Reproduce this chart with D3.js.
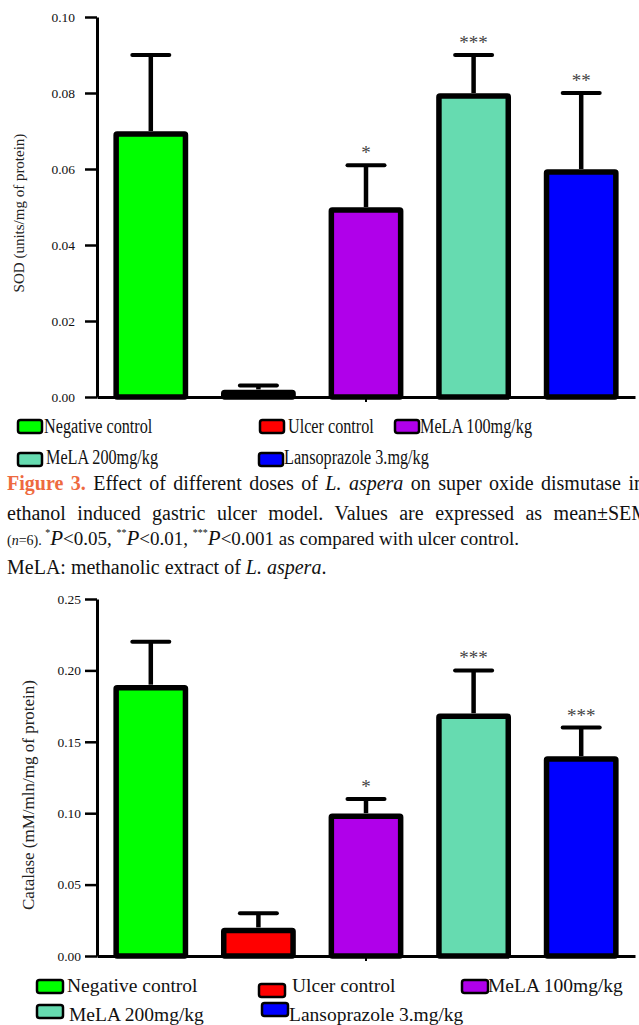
<!DOCTYPE html>
<html><head><meta charset="utf-8">
<script src="https://cdn.jsdelivr.net/npm/d3@7.9.0/dist/d3.min.js"></script>
<style>
html,body{margin:0;padding:0;background:#fff;}
svg{display:block;}
svg text{font-family:"Liberation Serif","DejaVu Serif",serif;}
</style></head><body>
<svg id="fig" width="639" height="1025"></svg>
<script>
// groups and colours shared by both panels
const groups = ["Negative control", "Ulcer control", "MeLA 100mg/kg", "MeLA 200mg/kg", "Lansoprazole 3.mg/kg"];
const colors = ["#00ff00", "#ff0000", "#b000ea", "#66dbb0", "#0000ff"];

// panel A: SOD
const sodMean = [0.07, 0.002, 0.05, 0.08, 0.06];
const sodSem = [0.02, 0.001, 0.011, 0.01, 0.02];
const sodSig = ["", "", "*", "***", "**"];
const sodTicks = [0, 0.02, 0.04, 0.06, 0.08, 0.10];

// panel B: catalase
const catMean = [0.19, 0.02, 0.10, 0.17, 0.14];
const catSem = [0.03, 0.01, 0.01, 0.03, 0.02];
const catSig = ["", "", "*", "***", "***"];
const catTicks = [0, 0.05, 0.10, 0.15, 0.20, 0.25];

const svg = d3.select('#fig');

function drawChart(o) {
  let y = d3.scaleLinear().domain([0, o.max]).range([o.bottom, o.top]);
  let x = d3.scaleBand().domain(groups).range([97, 635]).paddingInner(0.3).paddingOuter(0.15);
  let g = svg.append('g');

  let rows = groups.map((k, i) => ({ k, m: o.mean[i], s: o.sem[i], sig: o.sig[i], c: colors[i] }));

  g.selectAll('rect.bar').data(rows).enter().append('rect')
    .attr('class', 'bar')
    .attr('x', d => x(d.k) + 3)
    .attr('width', x.bandwidth() - 6)
    .attr('y', d => y(d.m) + 3)
    .attr('height', d => y(0) - y(d.m) - 3)
    .attr('fill', d => d.c)
    .attr('stroke', '#000').attr('stroke-width', 5.5).attr('rx', 1);

  let cx = d => x(d.k) + x.bandwidth() / 2;
  g.selectAll('line.err').data(rows).enter().append('line')
    .attr('x1', cx).attr('x2', cx)
    .attr('y1', d => y(d.m)).attr('y2', d => y(d.m + d.s))
    .attr('stroke', '#000').attr('stroke-width', 4.5);
  g.selectAll('line.cap').data(rows).enter().append('line')
    .attr('x1', d => cx(d) - 18.5).attr('x2', d => cx(d) + 18.5)
    .attr('y1', d => y(d.m + d.s)).attr('y2', d => y(d.m + d.s))
    .attr('stroke', '#000').attr('stroke-width', 4).attr('stroke-linecap', 'round');

  g.selectAll('text.sig').data(rows).enter().append('text')
    .attr('x', cx).attr('y', d => y(d.m + d.s) - 6)
    .attr('text-anchor', 'middle').attr('font-size', 19).attr('fill', '#444')
    .text(d => d.sig);

  let ay = g.append('g').attr('transform', 'translate(97,0)')
    .call(d3.axisLeft(y).tickValues(o.ticks).tickFormat(d3.format('.2f')).tickSize(12).tickSizeOuter(0).tickPadding(o.pad));
  ay.select('.domain').attr('stroke-width', 3);
  ay.selectAll('.tick line').attr('stroke-width', 2.5);
  ay.selectAll('.tick text').style('font-size', '13.5px').attr('fill', '#111');

  let ax = g.append('g').attr('transform', `translate(0,${o.bottom})`)
    .call(d3.axisBottom(x).tickValues([groups[2]]).tickSize(5).tickSizeOuter(0).tickFormat(''));
  ax.select('.domain').attr('stroke-width', 3);
  ax.selectAll('.tick line').attr('stroke-width', 2);

  g.append('text')
    .attr('transform', `translate(${o.labelX},${o.labelY}) rotate(-90)`)
    .attr('text-anchor', 'middle').style('font-size', o.labelSize + 'px').attr('fill', '#222')
    .text(o.label);
}

function drawLegend(pos, base, size, sw, gap, fs, sx) {
  let g = svg.append('g');
  groups.forEach((k, i) => {
    let [px, py, row] = pos[i];
    g.append('rect').attr('x', px).attr('y', py).attr('width', sw).attr('height', size)
      .attr('rx', 2.5).attr('fill', colors[i]).attr('stroke', '#000').attr('stroke-width', 2.5);
    g.append('text')
      .attr('transform', `translate(${px + sw + gap[i]},${base[row]}) scale(${sx},1)`)
      .style('font-size', fs + 'px').attr('fill', '#111').text(k);
  });
}

drawChart({
  mean: sodMean, sem: sodSem, sig: sodSig, ticks: sodTicks, max: 0.10,
  top: 17, bottom: 397, pad: 10, label: 'SOD (units/mg of protein)',
  labelX: 24, labelY: 213, labelSize: 15
});
drawLegend([[18, 420, 0], [260, 420, 0], [395, 420, 0], [18, 453, 1], [259, 453, 1]],
  [433, 464], 13, 24, [2, 4, 1, 4, 1], 20, 0.81);

drawChart({
  mean: catMean, sem: catSem, sig: catSig, ticks: catTicks, max: 0.25,
  top: 599, bottom: 956, pad: 4, label: 'Catalase (mM/mln/mg of protein)',
  labelX: 34, labelY: 795, labelSize: 17
});
drawLegend([[37, 980, 0], [259, 984, 0], [462, 980, 0], [37, 1005, 1], [262, 1003, 1]],
  [992, 1021], 13, 26, [4, 7, 0, 6, 1], 19.5, 1);

// caption
let cap = svg.append('g').attr('fill', '#111');
function justify(t, target) {
  let n = t.node();
  let w = n.getComputedTextLength();
  let spaces = (n.textContent.match(/ /g) || []).length;
  if (spaces) t.attr('word-spacing', (target - w) / spaces);
}
let l1 = cap.append('text').attr('x', 7).attr('y', 490).style('font-size', '20px');
l1.append('tspan').attr('font-weight', 'bold').attr('fill', '#ee6a3f').text('Figure 3.');
l1.append('tspan').text(' Effect of different doses of ');
l1.append('tspan').attr('font-style', 'italic').text('L. aspera');
l1.append('tspan').text(' on super oxide dismutase in');
justify(l1, 637);

let l2 = cap.append('text').attr('x', 7).attr('y', 520).style('font-size', '20px')
  .text('ethanol induced gastric ulcer model. Values are expressed as mean\u00b1SEM');
justify(l2, 642);

let l3 = cap.append('text').attr('x', 7).attr('y', 545).style('font-size', '19px');
l3.append('tspan').style('font-size', '14px').text('(');
l3.append('tspan').style('font-size', '14px').attr('font-style', 'italic').text('n');
l3.append('tspan').style('font-size', '14px').text('=6). ');
[['*', '<0.05, '], ['**', '<0.01, '], ['***', '<0.001 as compared with ulcer control.']].forEach(([s, rest]) => {
  l3.append('tspan').style('font-size', '10px').attr('dy', -9).text(s);
  l3.append('tspan').style('font-size', '21px').attr('font-style', 'italic').attr('dy', 9).text('P');
  l3.append('tspan').text(rest);
});

let l4 = cap.append('text').attr('x', 7).attr('y', 574).style('font-size', '20px');
l4.append('tspan').text('MeLA: methanolic extract of ');
l4.append('tspan').attr('font-style', 'italic').text('L. aspera');
l4.append('tspan').text('.');
</script>
</body></html>
